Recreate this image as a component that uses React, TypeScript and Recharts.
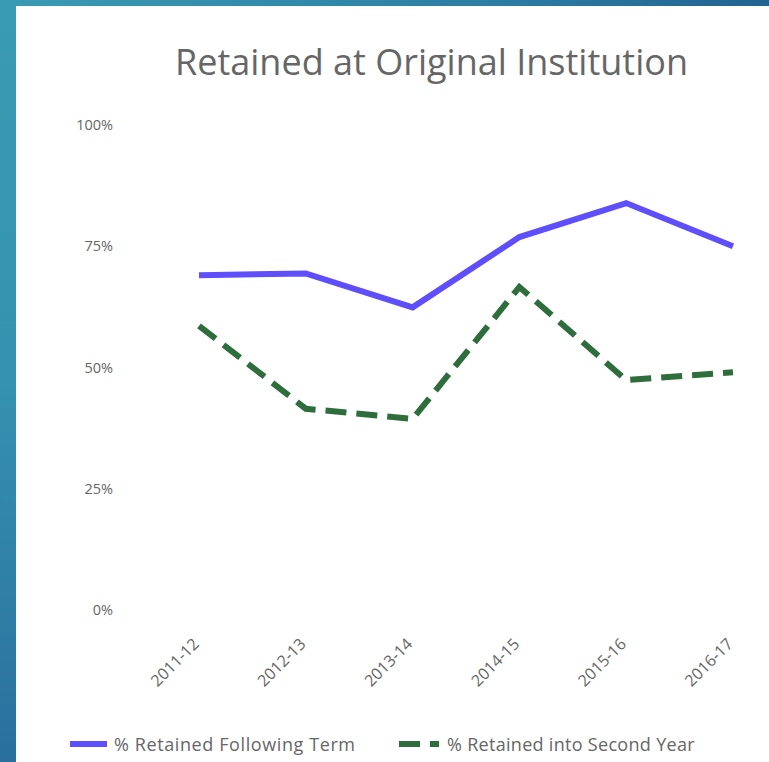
import React from "react";
import { LineChart, Line, XAxis, YAxis, Legend } from "recharts";

const years = ["2011-12", "2012-13", "2013-14", "2014-15", "2015-16", "2016-17"];
const followingTerm = [69.0, 69.4, 62.4, 76.9, 83.9, 75.0];
const secondYear = [58.6, 41.5, 39.4, 66.6, 47.4, 49.0];
const yTicks = [0, 25, 50, 75, 100];

const BLUE = "#5F4EFB";
const GREEN = "#2E6E3C";
const FONT = "'Segoe UI', 'Open Sans', sans-serif";

const data = years.map((year, i) => ({
  year,
  following: followingTerm[i],
  second: secondYear[i],
}));

const YTick = (props: any) => {
  const { x, y, payload } = props;
  return (
    <text x={x - 78} y={y} dy={5} textAnchor="end" fill="#666" fontSize={14.5} fontFamily={FONT}>
      {payload.value}%
    </text>
  );
};

const XTick = (props: any) => {
  const { x, y, payload } = props;
  const ax = x + 1;
  const ay = y + 27;
  return (
    <text
      x={ax}
      y={ay}
      textAnchor="end"
      fill="#666"
      fontSize={16}
      fontFamily={FONT}
      transform={`rotate(-45, ${ax}, ${ay})`}
    >
      {payload.value}
    </text>
  );
};

const LegendContent = () => (
  <div
    style={{
      display: "flex",
      alignItems: "center",
      fontFamily: FONT,
      fontSize: 18,
      letterSpacing: 0.6,
      color: "#666",
      height: 24,
    }}
  >
    <svg width={40} height={10} style={{ marginLeft: 69 }}>
      <line x1={1} y1={5} x2={38} y2={5} stroke={BLUE} strokeWidth={6} />
    </svg>
    <span style={{ marginLeft: 5 }}>% Retained Following Term</span>
    <svg width={42} height={10} style={{ position: "absolute", left: 398, top: 7 }}>
      <line x1={1} y1={5} x2={41} y2={5} stroke={GREEN} strokeWidth={6} strokeDasharray="21 10" />
    </svg>
    <span style={{ position: "absolute", left: 447, top: 0, letterSpacing: 0.3 }}>% Retained into Second Year</span>
  </div>
);

export default function App() {
  return (
    <div
      style={{
        position: "fixed",
        left: 0,
        top: 0,
        width: 769,
        height: 762,
        overflow: "hidden",
        background: "linear-gradient(100deg, #3a9bb4 0%, #2c7da3 55%, #1d5688 100%)",
      }}
    >
      <div
        style={{
          position: "absolute",
          left: 0,
          top: 0,
          width: 16,
          height: 762,
          background: "linear-gradient(180deg, #3a9bb4 0%, #3592b0 50%, #2a6f9e 100%)",
        }}
      />
      <div style={{ position: "absolute", left: 16, top: 6, width: 753, height: 756, background: "#fff" }} />
      <div
        style={{
          position: "absolute",
          left: 0,
          top: 37,
          width: 769,
          paddingLeft: 94,
          boxSizing: "border-box",
          textAlign: "center",
          fontFamily: FONT,
          fontSize: 36,
          color: "#666",
          lineHeight: "50px",
        }}
      >
        Retained at Original Institution
      </div>
      <div style={{ position: "absolute", left: 0, top: 0 }}>
        <LineChart width={769} height={762} data={data} margin={{ top: 125, right: 36, left: 0, bottom: 0 }}>
          <XAxis
            dataKey="year"
            axisLine={false}
            tickLine={false}
            tick={<XTick />}
            height={128}
            interval={0}
          />
          <YAxis
            domain={[0, 100]}
            ticks={yTicks}
            axisLine={false}
            tickLine={false}
            tick={<YTick />}
            width={199}
          />
          <Legend
            verticalAlign="bottom"
            align="left"
            content={<LegendContent />}
            wrapperStyle={{ left: 0, bottom: 6, width: 769, height: 24 }}
          />
          <Line
            dataKey="following"
            stroke={BLUE}
            strokeWidth={6}
            dot={false}
            activeDot={false}
            isAnimationActive={false}
          />
          <Line
            dataKey="second"
            stroke={GREEN}
            strokeWidth={6}
            strokeDasharray="21 10"
            dot={false}
            activeDot={false}
            isAnimationActive={false}
          />
        </LineChart>
      </div>
    </div>
  );
}
